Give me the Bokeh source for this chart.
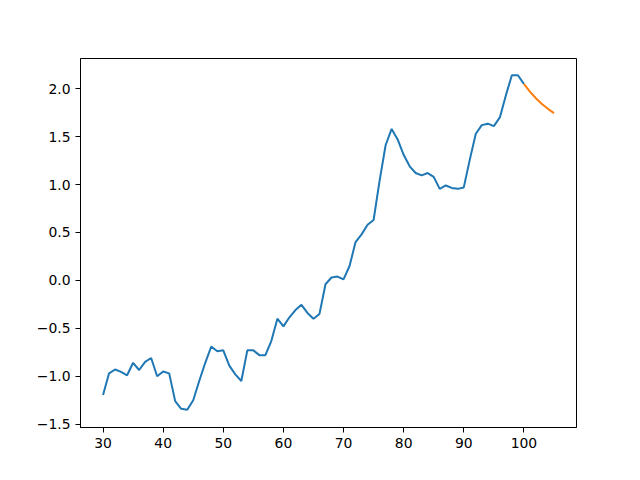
from bokeh.plotting import figure
from bokeh.models import Range1d, FixedTicker
from bokeh.embed import file_html
from bokeh.resources import INLINE

# Observed series (x = 30 .. 100)
obs_x = list(range(30, 101))
obs_y = [-1.195, -0.97, -0.93, -0.955, -0.99, -0.86, -0.935, -0.85, -0.81, -1.0,
         -0.95, -0.97, -1.26, -1.34, -1.35, -1.25, -1.05, -0.86, -0.69, -0.74,
         -0.73, -0.89, -0.98, -1.05, -0.73, -0.73, -0.78, -0.78, -0.63, -0.40,
         -0.48, -0.385, -0.31, -0.255, -0.34, -0.40, -0.35, -0.04, 0.03, 0.04,
         0.01, 0.15, 0.40, 0.48, 0.58, 0.63, 1.04, 1.41, 1.58, 1.47,
         1.31, 1.19, 1.12, 1.095, 1.12, 1.08, 0.955, 0.99, 0.965, 0.955,
         0.97, 1.26, 1.53, 1.62, 1.635, 1.61, 1.70, 1.93, 2.14, 2.14,
         2.05]

# Forecast series (x = 100 .. 105)
fc_x = [100, 101, 102, 103, 104, 105]
fc_y = [2.05, 1.97, 1.90, 1.84, 1.79, 1.745]

x_ticks = [30, 40, 50, 60, 70, 80, 90, 100]
y_ticks = [-1.5, -1.0, -0.5, 0.0, 0.5, 1.0, 1.5, 2.0]

p = figure(width=624, height=464, output_backend="svg", toolbar_location=None,
           x_range=Range1d(26.25, 108.75), y_range=Range1d(-1.535, 2.315),
           min_border_left=80, min_border_right=48, min_border_top=58, min_border_bottom=37)

p.line(obs_x, obs_y, line_color="#1f77b4", line_width=2)
p.line(fc_x, fc_y, line_color="#ff7f0e", line_width=2)

p.xgrid.visible = False
p.ygrid.visible = False
p.outline_line_color = "black"
p.outline_line_width = 1
p.outline_line_alpha = 1
p.background_fill_color = "white"
p.border_fill_color = "white"

p.xaxis.ticker = FixedTicker(ticks=x_ticks)
p.yaxis.ticker = FixedTicker(ticks=y_ticks)
p.yaxis.major_label_overrides = {t: ("%.1f" % t).replace("-", "\u2212") for t in y_ticks}
p.xaxis.major_label_overrides = {t: str(t) for t in x_ticks}

for ax in (p.xaxis, p.yaxis):
    ax.axis_line_color = "black"
    ax.axis_line_width = 1
    ax.major_tick_line_color = "black"
    ax.major_tick_line_width = 1
    ax.major_tick_out = 5
    ax.major_tick_in = 0
    ax.minor_tick_line_color = None
    ax.major_label_text_font = "DejaVu Sans"
    ax.major_label_text_font_size = "13.9px"
    ax.major_label_text_color = "black"
    ax.major_label_standoff = 5

open("out.html", "w").write(file_html(p, INLINE))
